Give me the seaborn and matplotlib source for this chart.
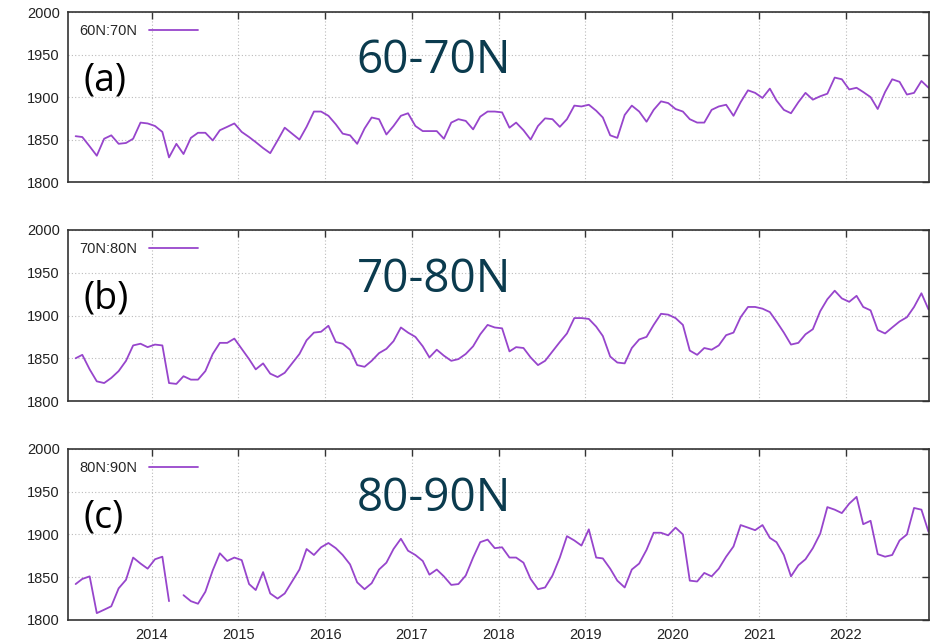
import numpy as np
import pandas as pd
import seaborn as sns
import matplotlib.pyplot as plt
import matplotlib.dates as mdates
from matplotlib.lines import Line2D

# Monthly XCH4 values (ppb), Feb 2013 .. Dec 2022
lat_60_70 = [1854, 1853, 1842, 1831, 1851, 1855, 1845, 1846, 1851, 1870, 1869,
             1866, 1859, 1829, 1845, 1833, 1852, 1858, 1858, 1849, 1861, 1865, 1869,
             1859, 1853, 1847, 1840, 1834, 1849, 1864, 1857, 1850, 1865, 1883, 1883,
             1878, 1868, 1857, 1855, 1845, 1863, 1876, 1874, 1856, 1866, 1878, 1881,
             1866, 1860, 1860, 1860, 1851, 1870, 1874, 1872, 1862, 1877, 1883, 1883,
             1882, 1864, 1870, 1861, 1850, 1866, 1875, 1874, 1865, 1874, 1890, 1889,
             1891, 1884, 1876, 1855, 1852, 1879, 1890, 1883, 1871, 1885, 1895, 1893,
             1886, 1883, 1874, 1870, 1870, 1885, 1889, 1891, 1878, 1894, 1908, 1905,
             1899, 1910, 1896, 1885, 1881, 1894, 1905, 1897, 1901, 1904, 1923, 1921,
             1909, 1911, 1906, 1900, 1886, 1906, 1921, 1918, 1903, 1905, 1919, 1911]

lat_70_80 = [1850, 1854, 1837, 1823, 1821, 1827, 1835, 1847, 1865, 1867, 1863,
             1866, 1865, 1821, 1820, 1829, 1825, 1825, 1835, 1855, 1868, 1868, 1873,
             1861, 1849, 1837, 1844, 1832, 1828, 1833, 1844, 1855, 1871, 1880, 1881,
             1888, 1869, 1867, 1860, 1842, 1840, 1847, 1856, 1861, 1870, 1886, 1880,
             1875, 1864, 1851, 1860, 1853, 1847, 1849, 1855, 1864, 1878, 1889, 1886,
             1885, 1858, 1863, 1862, 1851, 1842, 1847, 1858, 1869, 1879, 1897, 1897,
             1896, 1887, 1876, 1852, 1845, 1844, 1862, 1872, 1875, 1889, 1902, 1901,
             1897, 1889, 1859, 1854, 1862, 1860, 1865, 1877, 1880, 1898, 1910, 1910,
             1908, 1904, 1893, 1880, 1866, 1868, 1878, 1884, 1905, 1919, 1929, 1920,
             1916, 1923, 1910, 1906, 1883, 1879, 1886, 1893, 1898, 1910, 1926, 1907]

lat_80_90 = [1842, 1848, 1851, 1808, 1812, 1816, 1837, 1847, 1873, 1866, 1860,
             1871, 1874, 1822, np.nan, 1829, 1822, 1819, 1833, 1858, 1878, 1869, 1873,
             1870, 1842, 1835, 1856, 1831, 1825, 1831, 1845, 1859, 1883, 1876, 1885,
             1890, 1884, 1876, 1865, 1844, 1836, 1843, 1859, 1867, 1883, 1895, 1881,
             1876, 1869, 1853, 1859, 1851, 1841, 1842, 1852, 1873, 1891, 1894, 1884,
             1885, 1873, 1873, 1867, 1848, 1836, 1838, 1852, 1873, 1898, 1893, 1887,
             1906, 1873, 1872, 1860, 1846, 1838, 1859, 1866, 1882, 1902, 1902, 1899,
             1908, 1900, 1846, 1845, 1855, 1851, 1860, 1874, 1886, 1911, 1908, 1905,
             1911, 1896, 1891, 1876, 1851, 1864, 1871, 1884, 1901, 1932, 1929, 1925,
             1936, 1944, 1912, 1916, 1877, 1874, 1876, 1893, 1900, 1931, 1929, 1903]

months = pd.date_range('2013-02-01', '2022-12-01', freq='MS') + pd.Timedelta(days=14)

panels = [('60N:70N', '60-70N', '(a)', lat_60_70),
          ('70N:80N', '70-80N', '(b)', lat_70_80),
          ('80N:90N', '80-90N', '(c)', lat_80_90)]

sns.set_theme(style='white')
plt.rcParams['font.family'] = ['Liberation Sans', 'DejaVu Sans']

line_color = '#9745cc'
frame_color = '#333333'

fig = plt.figure(figsize=(9.49, 6.41), dpi=100)
# axes boxes: left, bottom, width, height
boxes = [[0.0717, 0.716, 0.907, 0.265],
         [0.0717, 0.3744, 0.907, 0.2668],
         [0.0717, 0.0328, 0.907, 0.2668]]

for i, (name, region, tag, values) in enumerate(panels):
    ax = fig.add_axes(boxes[i])
    df = pd.DataFrame({'month': months, 'xch4': values})
    # split into segments so missing months leave a gap
    df['seg'] = df['xch4'].isna().cumsum()
    df = df.dropna()
    sns.lineplot(data=df, x='month', y='xch4', units='seg', estimator=None,
                 color=line_color, linewidth=1.3, ax=ax)

    ax.set_xlim(pd.Timestamp('2013-01-14'), pd.Timestamp('2022-12-16'))
    ax.set_ylim(1800, 2000)
    ax.set_yticks(np.arange(1800, 2001, 50))
    ax.xaxis.set_major_locator(mdates.YearLocator())
    ax.xaxis.set_major_formatter(mdates.DateFormatter('%Y'))
    ax.set_xlabel('')
    ax.set_ylabel('')

    ax.grid(True, color='#bbbbbb', linestyle=(0, (1, 2)), linewidth=0.8)
    ax.tick_params(direction='in', length=5, width=1, color=frame_color,
                   top=True, right=True, labelsize=10.5, labelcolor='#222222', pad=6)
    if i < 2:
        ax.tick_params(labelbottom=False)
    for sp in ax.spines.values():
        sp.set_color(frame_color)
        sp.set_linewidth(1.2)

    handle = Line2D([], [], color=line_color, linewidth=1.3)
    ax.legend([handle], [name], loc='upper left', markerfirst=False, frameon=False,
              fontsize=10.5, handlelength=3.3, borderaxespad=0.4, handletextpad=0.8,
              borderpad=0.4)

    ax.text(0.335, 0.71, region, transform=ax.transAxes, fontsize=33,
            color='#0b3b4e', family='Open Sans', va='center', ha='left')
    ax.text(0.018, 0.6, tag, transform=ax.transAxes, fontsize=27,
            color='black', family='Open Sans', va='center', ha='left')

plt.savefig('out.png', dpi=100)
